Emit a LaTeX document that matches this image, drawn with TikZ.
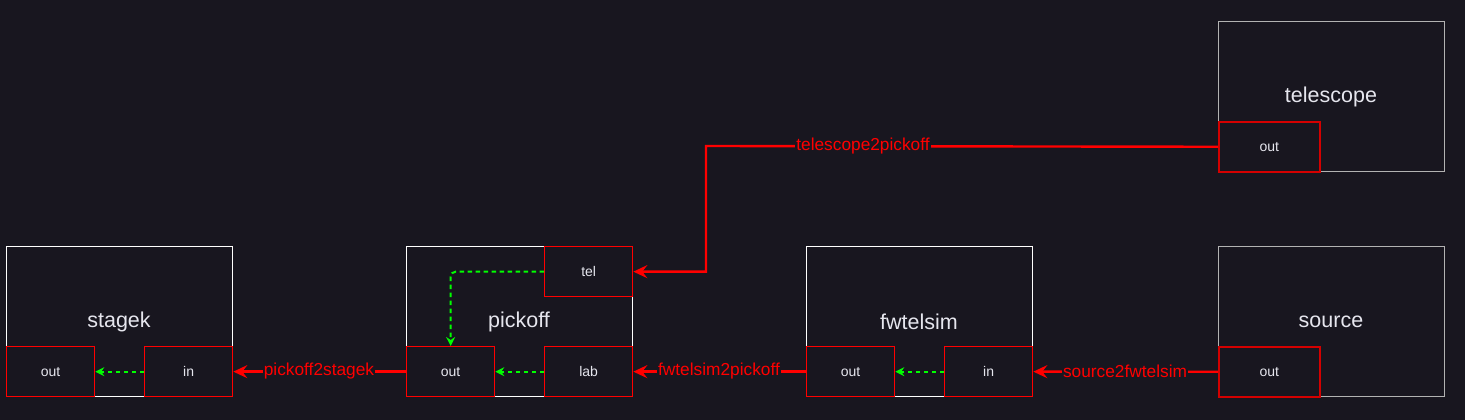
\documentclass[tikz,border=0pt]{standalone}
\usepackage{fontspec}
\setmainfont{Liberation Sans}
\usetikzlibrary{arrows.meta}
\definecolor{bg}{HTML}{18161F}
\definecolor{txt}{HTML}{E6E6EE}
\definecolor{pred}{HTML}{FF0000}
\definecolor{dred}{HTML}{D40000}
\definecolor{grn}{HTML}{00FF00}
\tikzset{
  x=1pt,y=-1pt,
  block/.style={draw=white,line width=1pt,fill=bg,inner sep=0pt,anchor=north west,minimum width=226pt,minimum height=150pt},
  blockg/.style={block,draw=gray!60!white},
  blabel/.style={text=txt,font=\fontsize{21.5}{25}\selectfont},
  port/.style={draw=pred,line width=1.3pt,fill=bg,text=txt,font=\fontsize{14}{16}\selectfont,inner sep=0pt,anchor=north west,minimum width=88pt,minimum height=50pt},
  portw/.style={port,draw=dred,line width=1.5pt,minimum width=101pt},
  conn/.style={draw=pred,line width=2.4pt,-{Stealth[length=14pt,width=13pt,inset=5pt]}},
  clabel/.style={text=pred,fill=bg,inner sep=1pt,font=\fontsize{17.3}{20}\selectfont},
  inner/.style={draw=grn,line width=2pt,dash pattern=on 4.5pt off 3.5pt,-{Stealth[length=9pt,width=9pt,inset=3pt]}}
}
\begin{document}
\begin{tikzpicture}
\fill[bg] (0,0) rectangle (1465,420);
\useasboundingbox (0,0) rectangle (1465,420);
% blocks
\node[block] (stagek) at (6,246) {};
\node[blabel] (stagekL) at (119,322) {stagek};
\node[block] (pickoff) at (406,246) {};
\node[blabel] (pickoffL) at (519,322) {pickoff};
\node[block] (fwtelsim) at (806,246) {};
\node[blabel] (fwtelsimL) at (919,322) {fwtelsim};
\node[blockg] (source) at (1218,246) {};
\node[blabel] (sourceL) at (1331,322) {source};
\node[blockg] (telescope) at (1218,21) {};
\node[blabel] (telescopeL) at (1331,97) {telescope};
% ports
\node[port] (sout) at (6,346) {out};
\node[port] (sin) at (144,346) {in};
\node[port] (ptel) at (544,246) {tel};
\node[port] (pout) at (406,346) {out};
\node[port] (plab) at (544,346) {lab};
\node[port] (fout) at (806,346) {out};
\node[port] (fin) at (944,346) {in};
\node[portw] (srcout) at (1218,346) {out};
\node[portw] (telout) at (1218,121) {out};
% inner links
\draw[inner] (sin.west) -- (sout.east);
\draw[inner] (plab.west) -- (pout.east);
\draw[inner] (fin.west) -- (fout.east);
\draw[inner,rounded corners=5pt] (ptel.west) -| (pout.north);
% connectors
\coordinate (bend) at (706,146);
\draw[conn] (telout.west) -- (bend) |- (ptel.east);
\node[clabel] (l1) at (863,146) {telescope2pickoff};
\draw[conn] (srcout.west) -- (fin.east);
\node[clabel] (l2) at (1125,371) {source2fwtelsim};
\draw[conn] (fout.west) -- (plab.east);
\node[clabel] (l3) at (719,371) {fwtelsim2pickoff};
\draw[conn] (pout.west) -- (sin.east);
\node[clabel] (l4) at (319,371) {pickoff2stagek};
\end{tikzpicture}
\end{document}
